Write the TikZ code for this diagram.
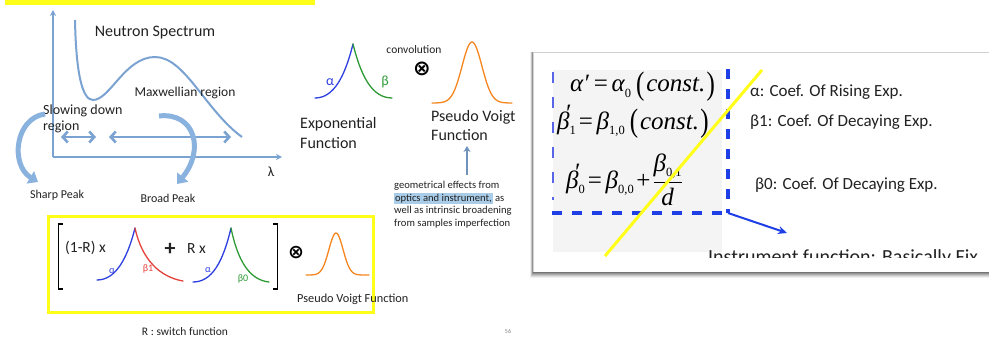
\documentclass[tikz,border=0pt]{standalone}
\usepackage{fontspec}
\usepackage{graphicx}
\setmainfont{Carlito}
\newfontfamily\tms{Liberation Serif}
\newfontfamily\djv{DejaVu Sans}
\usetikzlibrary{arrows.meta}
\definecolor{axblue}{HTML}{7BA3D2}
\definecolor{arblue}{HTML}{8AB2DE}
\definecolor{cblue}{HTML}{2E3FE0}
\definecolor{cgreen}{HTML}{2E9A35}
\definecolor{cred}{HTML}{E5413A}
\definecolor{corange}{HTML}{F5861F}
\definecolor{ylw}{HTML}{FFFF1A}
\definecolor{hlblue}{HTML}{A9CCE8}
\definecolor{dblue}{HTML}{1F3FE6}
\definecolor{txt}{HTML}{222222}
\newcommand{\sbx}[1]{\raisebox{-0.22em}{\fontsize{12.5}{12.5}\selectfont\upshape #1}}
\newcommand{\tlp}{\raisebox{-0.10em}{\scalebox{1}[1.3]{\upshape (}}}
\newcommand{\trp}{\raisebox{-0.10em}{\scalebox{1}[1.3]{\upshape )}}}
\newcommand{\hlt}[1]{{\setlength{\fboxsep}{0.8pt}\colorbox{hlblue}{#1}}}
\newcommand{\gp}[1]{\hspace{#1em}}
\tikzset{
  lbl/.style={inner sep=0pt, text=txt, font=\fontsize{#1}{#1}\selectfont},
  lbl/.default=13,
  fml/.style={inner sep=0pt, text=black, anchor=base west, font=\tms\itshape\fontsize{25}{25}\selectfont},
  crv/.style={line width=1.3pt, line cap=round},
  dbl/.style={axblue, line width=2.6pt, {Straight Barb[length=5pt,width=11pt]}-{Straight Barb[length=5pt,width=11pt]}},
  bentarrow/.style={arblue, line width=5pt, -{Triangle[length=9pt,width=14pt]}},
  otimes/.style={inner sep=0pt, text=black, font=\djv\bfseries\fontsize{#1}{#1}\selectfont},
}
\begin{document}
\begin{tikzpicture}[x=1pt,y=-1pt]
\useasboundingbox (0,0) rectangle (989,337);
\fill[white] (0,0) rectangle (989,337);
% top yellow strip
\fill[ylw] (5,0) rectangle (315,5);
% axes
\coordinate (o) at (53,157);
\coordinate (ytop) at (53,10);
\coordinate (xend) at (282,157);
\draw[axblue, line width=2pt, -{Stealth[length=6pt,width=6pt]}] (o) -- (ytop);
\draw[axblue, line width=2pt, -{Stealth[length=6pt,width=6pt]}] (o) -- (xend);
\node[lbl=14] (lam) at (271,172) {λ};
% spectrum
\draw[axblue, line width=2pt] (75,20) .. controls (76,72) and (82,100) .. (93,100)
   .. controls (110,100) and (125,57) .. (155,57)
   .. controls (185,57) and (205,110) .. (242,137);
\node[lbl=16] (ns) at (155,33) {Neutron Spectrum};
\node[lbl=13.5] (mx) at (185,93) {Maxwellian region};
\node[lbl=14, anchor=west] (sd1) at (43,111) {Slowing down};
\node[lbl=14, anchor=west] (sd2) at (43,127) {region};
% double arrows
\coordinate (d1a) at (61,137); \coordinate (d1b) at (96,137);
\coordinate (d2a) at (109,137); \coordinate (d2b) at (231,137);
\draw[dbl] (d1a) -- (d1b);
\draw[dbl] (d2a) -- (d2b);
% bent arrows
\coordinate (b1s) at (45,114); \coordinate (b1e) at (38,182);
\coordinate (b2s) at (159,116); \coordinate (b2e) at (177,184);
\draw[bentarrow] (b1s) .. controls (15,118) and (10,165) .. (b1e);
\draw[bentarrow] (b2s) .. controls (195,112) and (205,150) .. (b2e);
\node[lbl=12] (sp) at (57,195) {Sharp Peak};
\node[lbl=12] (bp) at (168,198) {Broad Peak};
% exponential function
\draw[crv, cblue] (315,98) .. controls (334,98) and (345,76) .. (353,44);
\draw[crv, cgreen] (353,44) .. controls (361,76) and (372,98) .. (392,98);
\node[lbl=14, text=cblue] (al) at (330,82) {α};
\node[lbl=14, text=cgreen] (be) at (385,82) {β};
\node[lbl=16, anchor=west] (ex1) at (300,124) {Exponential};
\node[lbl=16, anchor=west] (ex2) at (300,143) {Function};
\node[lbl=11.5] (conv) at (414,50) {convolution};
\node[otimes=21] (ot1) at (422,69) {⊗};
% pseudo voigt
\draw[crv, corange] plot[domain=432:512, samples=70] (\x, {103-61*exp(-((\x-472)/14)^2)});
\node[lbl=16, anchor=west] (pv1) at (431,117) {Pseudo Voigt};
\node[lbl=16, anchor=west] (pv2) at (431,135) {Function};
\node[lbl=10.6, anchor=north west, align=left, font=\fontsize{10.6}{12.5}\selectfont] (geo) at (394,181)
  {geometrical effects from\\\hlt{optics and instrument,} as\\well as intrinsic broadening\\from samples imperfection};
\coordinate (up1) at (467,175); \coordinate (up2) at (467,146);
\draw[axblue!90!black, line width=1.6pt, -{Stealth[length=6pt,width=7pt]}] (up1) -- (up2);
% bottom yellow box
\draw[ylw, line width=3pt] (48,216) rectangle (373,312);
\draw[black, line width=1.6pt] (63,224) -- (58.5,224) -- (58.5,289) -- (63,289);
\draw[black, line width=1.6pt] (273,224) -- (277.5,224) -- (277.5,289) -- (273,289);
\node[lbl=15.5, anchor=west] (omr) at (65,248) {(1-R) x};
\draw[crv, cblue] (97,280) .. controls (115,280) and (127,260) .. (135,228);
\draw[crv, cred] (135,228) .. controls (142,260) and (160,277) .. (183,281);
\node[lbl=10, text=cblue] (a1) at (112,271) {α};
\node[lbl=10, text=cred] (b1) at (148,269) {β1};
\node[lbl=22] (plus) at (170,249) {\textbf{+}};
\node[lbl=15.5, anchor=west] (rx) at (187,249) {R x};
\draw[crv, cblue] (193,282) .. controls (212,282) and (223,262) .. (231,228);
\draw[crv, cgreen] (231,228) .. controls (238,262) and (250,280) .. (269,282);
\node[lbl=10, text=cblue] (a2) at (208,270) {α};
\node[lbl=10, text=cgreen] (b0) at (243,279) {β0};
\node[otimes=19] (ot2) at (296,253) {⊗};
\draw[crv, corange] plot[domain=306:369, samples=60] (\x, {275-42*exp(-((\x-336)/10)^2)});
\node[lbl=12.3, anchor=west] (pvf) at (297,299) {Pseudo Voigt Function};
\node[lbl=11.5] (rsw) at (185,332) {R : switch function};
\node[lbl=6, text=gray] (pg) at (508,331) {56};
% right panel
\foreach \i/\o in {6/0.06,5/0.08,4/0.1,3/0.12,2/0.15,1/0.2}
  \fill[black, opacity=\o] (533-\i*0.5,52) rectangle (995,272+\i);
\fill[white] (533,52) rectangle (995,272);
\draw[gray!35, line width=0.8pt] (995,52) -- (533,52) -- (533,272);
\fill[gray!9] (553,70) rectangle (722,252);
\node[fml] (f1) at (570,92) {α′\gp{0.2}\upshape=\gp{0.15}\itshape α\sbx{0}\gp{0.2}\tlp\gp{0.08}const.\gp{0.05}\trp};
\node[fml] (f2) at (557,129) {β\sbx{1}\kern-0.45em\raisebox{0.32em}{′}\gp{0.35}\upshape=\gp{0.15}\itshape β\sbx{1,0}\gp{0.2}\tlp\gp{0.08}const.\gp{0.05}\trp};
\node[fml] (f3) at (566,188) {β\sbx{0}\kern-0.45em\raisebox{0.32em}{′}\gp{0.35}\upshape=\gp{0.15}\itshape β\sbx{0,0}\gp{0.1}\upshape+\gp{0.08}\itshape $\displaystyle\frac{\mbox{β\sbx{0,1}}}{\mbox{\itshape d}}$};
\draw[cblue!80, line width=1.3pt, dash pattern=on 11pt off 14pt] (553,72) -- (553,200);
\coordinate (cor) at (728,213);
\draw[dblue, line width=4pt, dash pattern=on 10pt off 10pt] (728,69) -- (cor);
\draw[dblue, line width=4pt, dash pattern=on 10pt off 10pt] (552,213) -- (cor);
\coordinate (ya) at (605,256); \coordinate (yb) at (762,70);
\draw[ylw, line width=3pt] (ya) -- (yb);
\coordinate (arr) at (787,233);
\draw[dblue, line width=2pt, -{Stealth[length=9pt,width=8pt]}] (cor) -- (arr);
\node[lbl=17, anchor=west] (t1) at (750,92) {α: Coef. Of Rising Exp.};
\node[lbl=17, anchor=west] (t2) at (750,122) {β1: Coef. Of Decaying Exp.};
\node[lbl=17, anchor=west] (t3) at (755,185) {β0: Coef. Of Decaying Exp.};
\begin{scope}
\clip (533,230) rectangle (995,257);
\node[lbl=20, anchor=west] (t4) at (708,258) {Instrument function: Basically Fix};
\end{scope}
\end{tikzpicture}
\end{document}
